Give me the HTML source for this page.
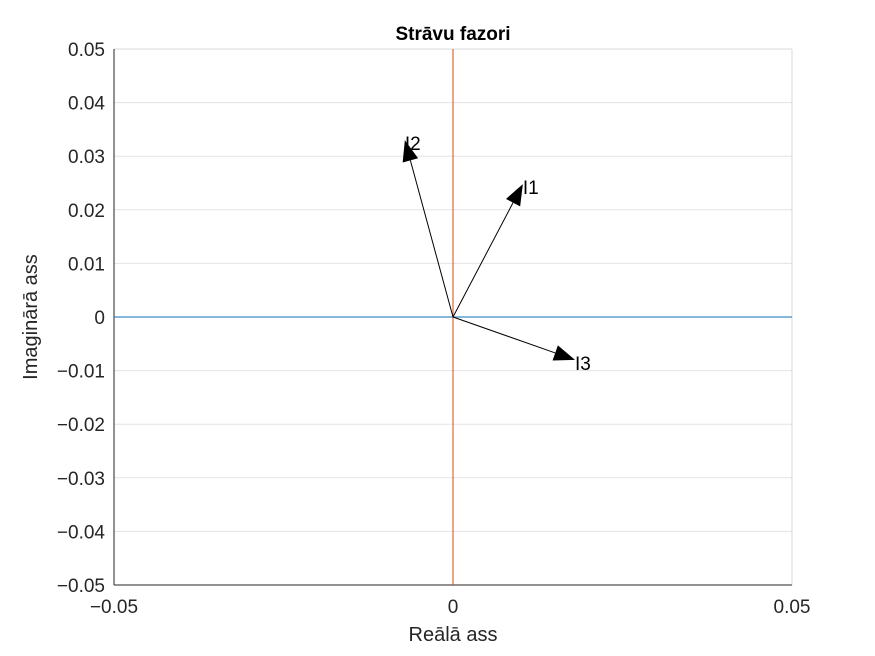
<!DOCTYPE html>
<html><head><meta charset="utf-8"><style>
body{margin:0;background:#fff;}
svg{display:block;font-family:"Liberation Sans",sans-serif;}
</style></head><body>
<svg id="chart" width="875" height="656"></svg>
<script>
const xTicks=[-0.05,0,0.05];
const xTickLabels=["\u22120.05","0","0.05"];
const yTicks=[-0.05,-0.04,-0.03,-0.02,-0.01,0,0.01,0.02,0.03,0.04,0.05];
const yTickLabels=["\u22120.05","\u22120.04","\u22120.03","\u22120.02","\u22120.01","0","0.01","0.02","0.03","0.04","0.05"];
const phasorNames=["I1","I2","I3"];
const phasorRe=[0.0103,-0.0071,0.018];
const phasorIm=[0.0248,0.033,-0.008];

const L=114,R=792,T=49,B=585;
const xs=v=>L+(v+0.05)/0.1*(R-L);
const ys=v=>B-(v+0.05)/0.1*(B-T);
const svg=document.getElementById('chart');
const NS='http://www.w3.org/2000/svg';
function mk(tag,attrs,parent){const e=document.createElementNS(NS,tag);for(const k in attrs)e.setAttribute(k,attrs[k]);(parent||svg).appendChild(e);return e;}

yTicks.forEach((v,i)=>{
  const g=mk('line',{x1:L,x2:R,y1:ys(v),y2:ys(v),stroke:'#e3e3e3','stroke-width':1});
  
  
  const t=mk('text',{x:L-9,y:ys(v)+7,'text-anchor':'end','font-size':19,fill:'#262626'});
  t.textContent=yTickLabels[i];
  
  
});
xTicks.forEach((v,i)=>{
  const t=mk('text',{x:xs(v),y:B+28,'text-anchor':'middle','font-size':19,fill:'#262626'});
  t.textContent=xTickLabels[i];
  
  
});
mk('line',{x1:L,x2:R,y1:T,y2:T,stroke:'#d9d9d9'});
mk('line',{x1:R,x2:R,y1:T,y2:B,stroke:'#d9d9d9'});
mk('line',{x1:L,x2:L,y1:T,y2:B,stroke:'#262626'});
mk('line',{x1:L,x2:R,y1:B,y2:B,stroke:'#262626'});

const h=mk('line',{x1:L,x2:R,y1:ys(0),y2:ys(0),stroke:'#0072bd','stroke-width':1.3,opacity:0.75});


const vl=mk('line',{x1:xs(0),x2:xs(0),y1:T,y2:B,stroke:'#d95319','stroke-width':1.3,opacity:0.8});



phasorNames.forEach((n,i)=>{
  const x0=xs(0),y0=ys(0),x1=xs(phasorRe[i]),y1=ys(phasorIm[i]);
  const dx=x1-x0,dy=y1-y0,len=Math.hypot(dx,dy),ux=dx/len,uy=dy/len;
  const hl=21,hw=8;
  const bx=x1-ux*hl,by=y1-uy*hl;
  const g=mk('g',{});
  
  
  mk('line',{x1:x0,y1:y0,x2:bx,y2:by,stroke:'#000','stroke-width':1},g);
  mk('polygon',{points:`${x1},${y1} ${bx-uy*hw},${by+ux*hw} ${bx+uy*hw},${by-ux*hw}`,fill:'#000'},g);
  const t=mk('text',{x:x1,y:y1+10,'font-size':19,fill:'#000'},g);
  t.textContent=n;
});

const title=mk('text',{x:453,y:40,'text-anchor':'middle','font-size':19,'font-weight':'bold',fill:'#000'});
title.textContent='Strāvu fazori';


const xl=mk('text',{x:453,y:641,'text-anchor':'middle','font-size':20,fill:'#262626'});
xl.textContent='Reālā ass';


const yl=mk('text',{x:0,y:0,'text-anchor':'middle','font-size':20,fill:'#262626',transform:'translate(37,317) rotate(-90)'});
yl.textContent='Imaginārā ass';


</script>
</body></html>
